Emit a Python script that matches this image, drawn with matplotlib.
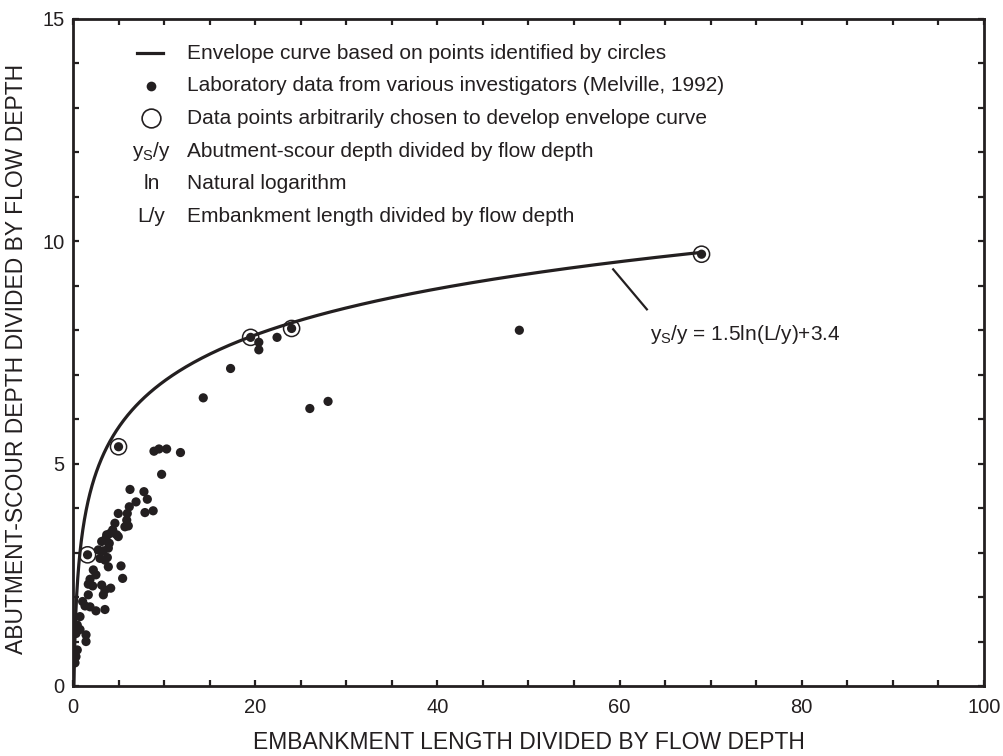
import numpy as np
import matplotlib
matplotlib.use("Agg")
import matplotlib.pyplot as plt
from matplotlib.ticker import MultipleLocator

plt.rcParams['font.family'] = ['Liberation Sans', 'DejaVu Sans']
plt.rcParams['mathtext.fontset'] = 'custom'
plt.rcParams['mathtext.rm'] = 'Liberation Sans'
plt.rcParams['mathtext.it'] = 'Liberation Sans'
plt.rcParams['mathtext.default'] = 'regular'

INK = '#231f20'

# Laboratory data (Melville, 1992)
lab_x = [19.5, 24.0, 69.0, 5.0, 1.6,
         20.4, 20.4, 22.4, 17.3, 14.3, 26.0, 28.0, 11.8, 49.0,
         8.89, 9.44, 10.28, 9.73,
         6.26, 7.79, 8.16, 6.92, 6.18, 7.9, 8.8, 4.97, 5.96, 5.9, 5.7, 4.6,
         4.36, 4.06, 4.97, 3.62, 3.15, 3.98, 2.78, 3.33, 3.88, 2.96, 3.77,
         3.51, 3.88, 5.27, 5.45, 2.23, 2.52, 1.87, 1.68, 2.16, 3.15, 3.51,
         4.14, 3.33, 1.68, 1.06, 1.32, 1.87, 2.52, 3.51, 0.77, 0.47, 0.77,
         1.43, 1.43, 0.33, 0.47, 0.33, 0.22, 0.11, 6.07, 4.8, 3.7]
lab_y = [7.84, 8.04, 9.71, 5.38, 2.95,
         7.73, 7.56, 7.84, 7.14, 6.48, 6.24, 6.40, 5.25, 8.0,
         5.28, 5.33, 5.33, 4.76,
         4.42, 4.37, 4.20, 4.14, 4.03, 3.90, 3.94, 3.88, 3.88, 3.73, 3.58, 3.66,
         3.51, 3.43, 3.36, 3.32, 3.25, 3.21, 3.06, 3.04, 3.10, 2.87, 2.89,
         2.83, 2.68, 2.70, 2.42, 2.61, 2.50, 2.40, 2.29, 2.25, 2.27, 2.16,
         2.20, 2.05, 2.05, 1.90, 1.80, 1.78, 1.69, 1.72, 1.56, 1.37, 1.27,
         1.15, 1.00, 1.18, 0.81, 0.66, 0.52, 0.58, 3.60, 3.40, 3.40]

# Points chosen to develop envelope curve
env_x = [1.6, 5.0, 19.5, 24.0, 69.0]
env_y = [2.95, 5.38, 7.84, 8.04, 9.71]

# Envelope curve coefficients: ys/y = a*ln(L/y) + b
a_coef, b_coef = 1.5, 3.4
L_end = 69.0

legend_rows = [
    ('line', 'Envelope curve based on points identified by circles'),
    ('dot', 'Laboratory data from various investigators (Melville, 1992)'),
    ('circle', 'Data points arbitrarily chosen to develop envelope curve'),
    ('y$_{S}$/y', 'Abutment-scour depth divided by flow depth'),
    ('ln', 'Natural logarithm'),
    ('L/y', 'Embankment length divided by flow depth'),
]

fig = plt.figure(figsize=(10.04, 7.56), dpi=100)
ax = fig.add_axes([0.0727, 0.0926, 0.9073, 0.8823])

x0 = np.exp(-b_coef / a_coef)
xs = np.geomspace(x0, L_end, 600)
ax.plot(xs, a_coef * np.log(xs) + b_coef, color=INK, lw=2.3, zorder=2)

ax.scatter(lab_x, lab_y, s=44, color=INK, edgecolors='none', zorder=3)
ax.scatter(env_x, env_y, s=135, facecolors='none', edgecolors=INK,
           linewidths=1.1, zorder=4)

ax.set_xlim(0, 100)
ax.set_ylim(0, 15)
ax.xaxis.set_major_locator(MultipleLocator(20))
ax.xaxis.set_minor_locator(MultipleLocator(5))
ax.yaxis.set_major_locator(MultipleLocator(5))
ax.yaxis.set_minor_locator(MultipleLocator(1))
ax.tick_params(which='both', direction='in', top=True, right=True,
               length=4, width=1.6, color=INK)
ax.tick_params(which='major', labelsize=14.5, labelcolor=INK)
ax.tick_params(axis='x', which='major', pad=9)
ax.tick_params(axis='y', which='major', pad=6)
for s in ax.spines.values():
    s.set_linewidth(2.0)
    s.set_color(INK)

ax.set_xlabel('EMBANKMENT LENGTH DIVIDED BY FLOW DEPTH', fontsize=16.5,
              color=INK, va='center')
ax.set_ylabel('ABUTMENT-SCOUR DEPTH DIVIDED BY FLOW DEPTH', fontsize=16.5,
              color=INK, va='center')
ax.xaxis.set_label_coords(0.5, -0.084)
ax.yaxis.set_label_coords(-0.062, 0.49)

# Legend / explanation block
row_y0, row_dy = 14.23, 0.733
sym_x, txt_x = 8.6, 12.5
for i, (sym, txt) in enumerate(legend_rows):
    yy = row_y0 - i * row_dy
    if sym == 'line':
        ax.plot([7.0, 9.9], [yy, yy], color=INK, lw=2.3)
    elif sym == 'dot':
        ax.plot([sym_x], [yy], 'o', ms=7, color=INK, mec='none')
    elif sym == 'circle':
        ax.plot([sym_x], [yy], 'o', ms=13.5, mfc='none', mec=INK, mew=1.2)
    else:
        ax.text(sym_x, yy, sym, ha='center', va='center', fontsize=15, color=INK)
    ax.text(txt_x, yy, txt, ha='left', va='center', fontsize=15, color=INK)

# Equation annotation with leader line
ax.plot([59.3, 63.0], [9.37, 8.47], color=INK, lw=1.6)
ax.text(63.3, 7.9, 'y$_{S}$/y = 1.5ln(L/y)+3.4', ha='left', va='center',
        fontsize=15, color=INK)

fig.savefig('out.png', dpi=100)
